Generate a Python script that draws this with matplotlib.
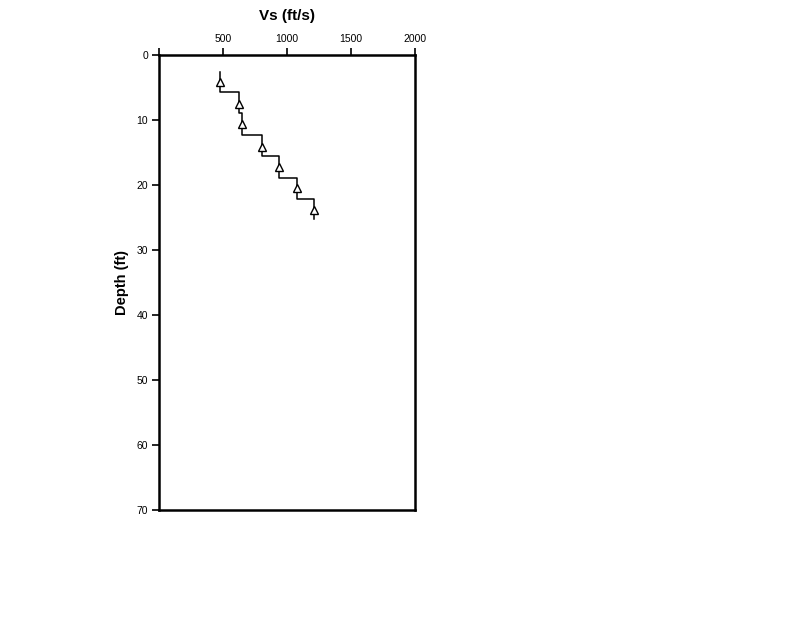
import numpy as np
import matplotlib.pyplot as plt

plt.rcParams['font.family'] = ['Liberation Sans', 'DejaVu Sans']

# layer velocities (ft/s) and layer boundaries (ft)
vs_layers = [477, 623, 651, 802, 940, 1076, 1213]
layer_top = [2.6, 5.7, 8.9, 12.3, 15.5, 18.9, 22.2]
layer_bot = [5.7, 8.9, 12.3, 15.5, 18.9, 22.2, 25.3]
# measured points (triangles)
vs_points = [477, 623, 651, 802, 940, 1076, 1213]
depth_points = [4.2, 7.5, 10.6, 14.1, 17.3, 20.5, 23.8]

x_ticks = [0, 500, 1000, 1500, 2000]
x_ticklabels = ['', '500', '1000', '1500', '2000']
y_ticks = [0, 10, 20, 30, 40, 50, 60, 70]

fig = plt.figure(figsize=(8, 6.18), dpi=100)
ax = fig.add_axes([0.19875, 0.1748, 0.32, 0.7362])

# step profile
xs, ys = [], []
for v, t, b in zip(vs_layers, layer_top, layer_bot):
    xs += [v, v]
    ys += [t, b]
ax.plot(xs, ys, color='black', lw=1.1)

ax.plot(vs_points, depth_points, linestyle='none', marker='^', markersize=6,
        markerfacecolor='white', markeredgecolor='black', markeredgewidth=1.0)

ax.set_xlim(0, 2000)
ax.set_ylim(70, 0)
ax.xaxis.tick_top()
ax.xaxis.set_label_position('top')
ax.set_xticks(x_ticks)
ax.set_xticklabels(x_ticklabels)
ax.set_yticks(y_ticks)
ax.tick_params(axis='both', direction='out', length=5, width=1.2, labelsize=7.5, pad=3)
ax.tick_params(axis='x', top=True, bottom=False)
ax.tick_params(axis='y', right=False)
for s in ax.spines.values():
    s.set_linewidth(1.8)

ax.set_xlabel('Vs (ft/s)', fontsize=11, fontweight='bold', labelpad=10)
ax.set_ylabel('Depth (ft)', fontsize=10.5, fontweight='bold', labelpad=5)

fig.savefig('out.png', dpi=100)
